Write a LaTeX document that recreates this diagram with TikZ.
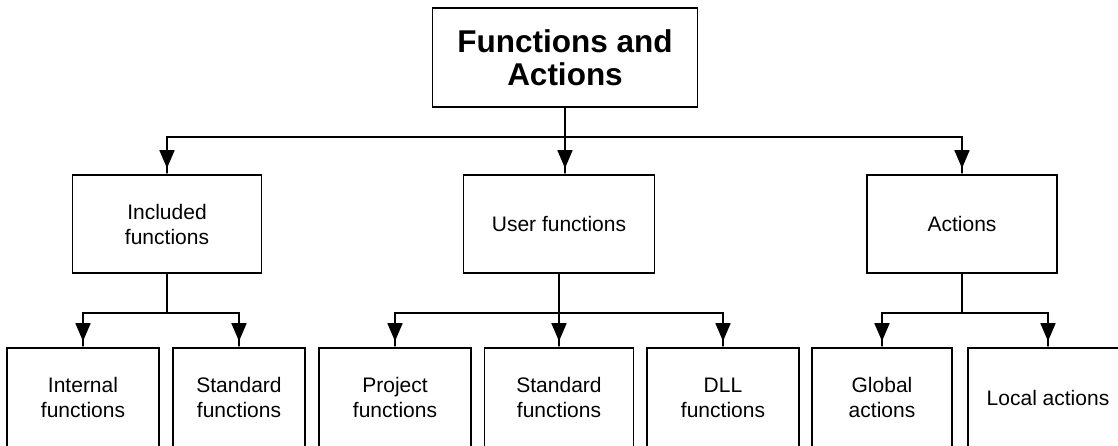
\documentclass[tikz,border=0pt]{standalone}
\usepackage{fontspec}
\setmainfont{Liberation Sans}
\usetikzlibrary{arrows.meta}
\begin{document}
\begin{tikzpicture}[x=1pt, y=-1pt,
	wire/.style={line width=1.6pt},
	arr/.style={line width=1.6pt, -{Triangle[length=18pt, width=15pt]Rectangle[length=6pt, width=1.6pt]}},
	box/.style={draw, line width=1.6pt, align=center, inner sep=0pt, font=\fontsize{21}{25}\selectfont},
	head/.style={draw, line width=1.6pt, align=center, inner sep=0pt, font=\bfseries\fontsize{31.5}{33}\selectfont}]
	\useasboundingbox (0,0) rectangle (1118,445);
	\clip (0,0) rectangle (1118,445);

	\node[head, minimum width=265pt, minimum height=99pt] (fa) at (565,57.5) {Functions and\\Actions};

	\node[box, minimum width=189pt, minimum height=98pt] (incl) at (167,224) {Included\\functions};
	\node[box, minimum width=191pt, minimum height=98pt] (user) at (559,224) {User functions};
	\node[box, minimum width=190pt, minimum height=98pt] (act) at (962,224) {Actions};

	\node[box, minimum width=152pt, minimum height=99pt] (int) at (83,397.5) {Internal\\functions};
	\node[box, minimum width=132pt, minimum height=99pt] (std1) at (239,397.5) {Standard\\functions};
	\node[box, minimum width=152pt, minimum height=99pt] (proj) at (395,397.5) {Project\\functions};
	\node[box, minimum width=149pt, minimum height=99pt] (std2) at (559,397.5) {Standard\\functions};
	\node[box, minimum width=152pt, minimum height=99pt] (dll) at (723,397.5) {DLL\\functions};
	\node[box, minimum width=140pt, minimum height=99pt] (glob) at (882,397.5) {Global\\actions};
	\node[box, minimum width=160pt, minimum height=99pt] (loc) at (1048,397.5) {Local actions};

	\coordinate (bus) at (565,137);
	\draw[wire] (fa.south) -- (bus);
	\draw[arr] (bus) -| (incl.north);
	\draw[arr] (bus) -- (bus |- user.north);
	\draw[arr] (bus) -| (act.north);

	\foreach \c in {int, std1}
		\draw[arr] (incl.south) -- ++(0,39) -| (\c.north);
	\foreach \c in {proj, std2, dll}
		\draw[arr] (user.south) -- ++(0,39) -| (\c.north);
	\foreach \c in {glob, loc}
		\draw[arr] (act.south) -- ++(0,39) -| (\c.north);
\end{tikzpicture}
\end{document}
